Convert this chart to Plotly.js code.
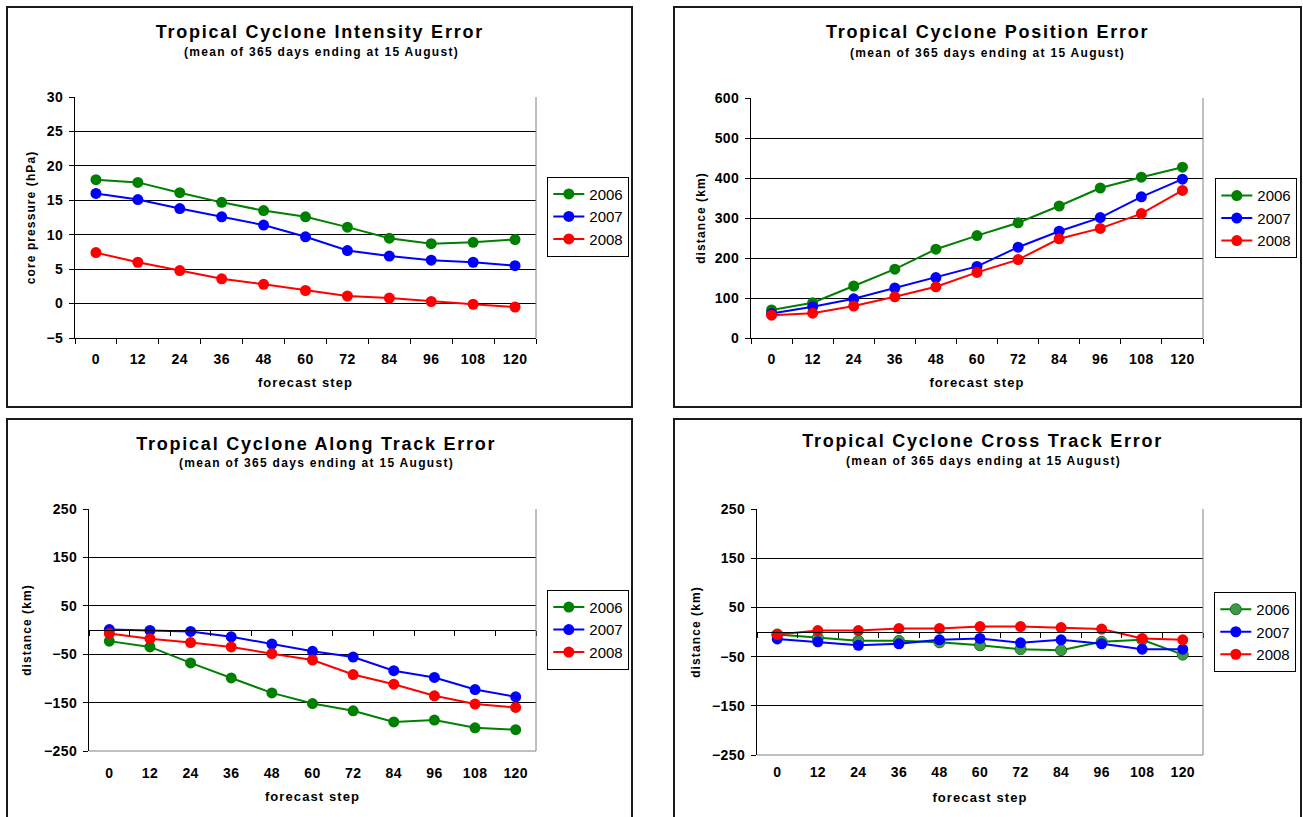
<!DOCTYPE html>
<html><head><meta charset="utf-8">
<script src="https://cdn.plot.ly/plotly-3.0.1.min.js"></script>
<style>
html,body{margin:0;padding:0;background:#fff;width:1303px;height:817px;overflow:hidden;}
.panel{position:absolute;}
.frame{position:absolute;border:2px solid #1a1a1a;box-sizing:border-box;pointer-events:none;}
.annotation-text{letter-spacing:1.3px;}
.annotation[data-index="0"] .annotation-text{letter-spacing:1.75px;}
.xtitle,.ytitle{letter-spacing:1.1px;}
.xtick text,.ytick text{letter-spacing:0.4px;}
</style></head><body>
<div id="p1" class="panel"></div><div id="p2" class="panel"></div>
<div id="p3" class="panel"></div><div id="p4" class="panel"></div>
<script>
// ---- data ----
const steps = ['0','12','24','36','48','60','72','84','96','108','120'];
const years = ['2006','2007','2008'];

const intensity2006 = [18.0, 17.6, 16.1, 14.7, 13.5, 12.6, 11.1, 9.5, 8.7, 8.9, 9.3];
const intensity2007 = [16.0, 15.1, 13.8, 12.6, 11.4, 9.7, 7.7, 6.9, 6.3, 6.0, 5.5];
const intensity2008 = [7.4, 6.0, 4.8, 3.6, 2.8, 1.9, 1.1, 0.8, 0.3, -0.1, -0.5];

const position2006 = [70, 88, 130, 172, 222, 256, 288, 330, 375, 402, 427];
const position2007 = [61, 78, 98, 125, 151, 179, 227, 267, 301, 353, 397];
const position2008 = [57, 62, 80, 103, 128, 164, 196, 248, 274, 311, 369];

const along2006 = [-23, -35, -68, -99, -130, -152, -167, -190, -186, -202, -206];
const along2007 = [1, -1, -3, -14, -29, -44, -56, -84, -98, -123, -138];
const along2008 = [-7, -18, -26, -35, -49, -62, -92, -112, -136, -153, -160];

const cross2006 = [-5, -12, -18, -18, -21, -27, -35, -37, -20, -16, -46];
const cross2007 = [-14, -20, -27, -24, -16, -13, -22, -16, -24, -35, -35];
const cross2008 = [-5, 3, 3, 7, 7, 11, 11, 9, 6, -13, -16];

const subtitleText = '(mean of 365 days ending at 15 August)';
const xTitleText = 'forecast step';

// ---- styling / geometry ----
const FONT = 'Liberation Sans, Arial, sans-serif';
const lineColors = ['#008000', '#0000ff', '#ff0000'];

const panels = [
  {id:'p1', title:'Tropical Cyclone Intensity Error', yTitle:'core pressure (hPa)',
   series:[intensity2006, intensity2007, intensity2008], yRange:[-5,30], dtick:5, tick0:0, zeroAxis:false,
   box:{x:6,y:6,w:627,h:402}, plot:{x0:75,x1:535.7,y0:97.3,y1:338.3},
   tx:320, ty:32, sx:321, sy:52, leg:{x:547,y:177}, standoff:8, tls:8, xts:12},
  {id:'p2', title:'Tropical Cyclone Position Error', yTitle:'distance (km)',
   series:[position2006, position2007, position2008], yRange:[0,600], dtick:100, tick0:0, zeroAxis:false,
   box:{x:673,y:6,w:629,h:402}, plot:{x0:751,x1:1202.7,y0:97.7,y1:337.7},
   tx:987, ty:32, sx:987, sy:53, leg:{x:1215,y:178}, standoff:6, tls:8, xts:12},
  {id:'p3', title:'Tropical Cyclone Along Track Error', yTitle:'distance (km)',
   series:[along2006, along2007, along2008], yRange:[-250,250], dtick:100, tick0:-250, zeroAxis:true,
   box:{x:6,y:418,w:627,h:402}, plot:{x0:89.3,x1:535.7,y0:509.3,y1:751},
   tx:316, ty:444, sx:316, sy:463, leg:{x:547,y:590}, standoff:9, tls:12, xts:11},
  {id:'p4', title:'Tropical Cyclone Cross Track Error', yTitle:'distance (km)',
   series:[cross2006, cross2007, cross2008], yRange:[-250,250], dtick:100, tick0:-250, zeroAxis:true,
   box:{x:673,y:418,w:629,h:402}, plot:{x0:757.3,x1:1202.7,y0:509,y1:755},
   tx:982, ty:441, sx:983, sy:461, leg:{x:1214,y:592}, standoff:8, tls:7, xts:13,
   greenMarker:{color:'#3c9a46', line:{color:'#1e6e28', width:1}}}
];

panels.forEach(p => {
  const el = document.getElementById(p.id);
  el.style.left = p.box.x + 'px'; el.style.top = p.box.y + 'px';
  el.style.width = p.box.w + 'px'; el.style.height = p.box.h + 'px';
  const fr = document.createElement('div');
  fr.className = 'frame';
  fr.style.left = p.box.x + 'px'; fr.style.top = p.box.y + 'px';
  fr.style.width = p.box.w + 'px'; fr.style.height = p.box.h + 'px';
  document.body.appendChild(fr);

  const pw = p.plot.x1 - p.plot.x0, ph = p.plot.y1 - p.plot.y0;
  const fx = px => (px - p.plot.x0) / pw;
  const fy = py => (p.plot.y1 - py) / ph;

  const traces = p.series.map((vals, i) => {
    let marker = {size:11, color:lineColors[i], line:{width:0}};
    if (i === 0 && p.greenMarker) marker = Object.assign({size:11}, p.greenMarker);
    return {x:steps, y:vals, type:'scatter', mode:'lines+markers', name:years[i],
            legendgroup:years[i], line:{color:lineColors[i], width:2}, marker:marker,
            hoverinfo:'skip'};
  });

  const tickFont = {family:FONT, size:14, color:'#000', weight:'bold'};
  const xaxis = {type:'category', categoryorder:'array', categoryarray:steps, range:[-0.5, steps.length-0.5],
    showgrid:false, zeroline:false, tickfont:tickFont, automargin:false,
    title:{text:xTitleText, font:{family:FONT, size:13, color:'#000', weight:'bold'}, standoff:p.xts},
    fixedrange:true, ticklabelstandoff:p.tls};
  if (p.zeroAxis) {
    Object.assign(xaxis, {showline:false, ticks:''});
  } else {
    Object.assign(xaxis, {showline:true, linecolor:'#000', linewidth:1, ticks:'outside', tickson:'boundaries',
      ticklen:5, tickcolor:'#000', tickwidth:1});
  }

  const layout = {
    width:p.box.w, height:p.box.h,
    margin:{l:p.plot.x0 - p.box.x, r:p.box.x + p.box.w - p.plot.x1, t:p.plot.y0 - p.box.y, b:p.box.y + p.box.h - p.plot.y1, pad:0, autoexpand:false},
    paper_bgcolor:'rgba(0,0,0,0)', plot_bgcolor:'#fff',
    font:{family:FONT, color:'#000'},
    showlegend:true,
    legend:{x:fx(p.leg.x), y:fy(p.leg.y), xanchor:'left', yanchor:'top', bordercolor:'#000', borderwidth:1,
      bgcolor:'#fff', font:{family:FONT, size:15, color:'#000'}, tracegroupgap:0, traceorder:'grouped', itemwidth:31},
    xaxis:xaxis,
    yaxis:{range:p.yRange, tick0:p.tick0, dtick:p.dtick, showgrid:true, gridcolor:'#000', gridwidth:1, zeroline:false,
      showline:true, linecolor:'#000', linewidth:1, ticks:'outside', ticklen:5, tickcolor:'#000', tickwidth:1,
      ticklabelstandoff:3, tickfont:tickFont, automargin:false,
      title:{text:p.yTitle, font:{family:FONT, size:12, color:'#000', weight:'bold'}, standoff:p.standoff},
      fixedrange:true},
    shapes:[
      {type:'line', xref:'paper', yref:'paper', x0:1, x1:1, y0:0, y1:1, line:{color:'#808080', width:1}}
    ],
    annotations:[
      {text:p.title, xref:'paper', yref:'paper', x:fx(p.tx), y:fy(p.ty), xanchor:'center', yanchor:'middle',
       showarrow:false, font:{family:FONT, size:18, color:'#000', weight:'bold'}},
      {text:subtitleText, xref:'paper', yref:'paper', x:fx(p.sx), y:fy(p.sy), xanchor:'center', yanchor:'middle',
       showarrow:false, font:{family:FONT, size:12, color:'#000', weight:'bold'}}
    ]
  };
  if (p.zeroAxis) {
    layout.shapes.push({type:'line', xref:'paper', yref:'paper', x0:0, x1:1, y0:0, y1:0, line:{color:'#808080', width:1}});
    layout.xaxis2 = {type:'category', categoryorder:'array', categoryarray:steps, range:[-0.5, steps.length-0.5],
      overlaying:'x', anchor:'free', position:(0 - p.yRange[0]) / (p.yRange[1] - p.yRange[0]),
      showline:true, linecolor:'#000', linewidth:1, ticks:'outside', tickson:'boundaries', ticklen:5,
      tickcolor:'#000', tickwidth:1, showticklabels:false, showgrid:false, zeroline:false, fixedrange:true, automargin:false};
    traces.unshift({x:steps, y:p.series[0], xaxis:'x2', type:'scatter', mode:'markers',
      marker:{opacity:0}, showlegend:false, hoverinfo:'skip'});
  }
  Plotly.newPlot(p.id, traces, layout, {staticPlot:true, displayModeBar:false});
});
</script>
</body></html>
